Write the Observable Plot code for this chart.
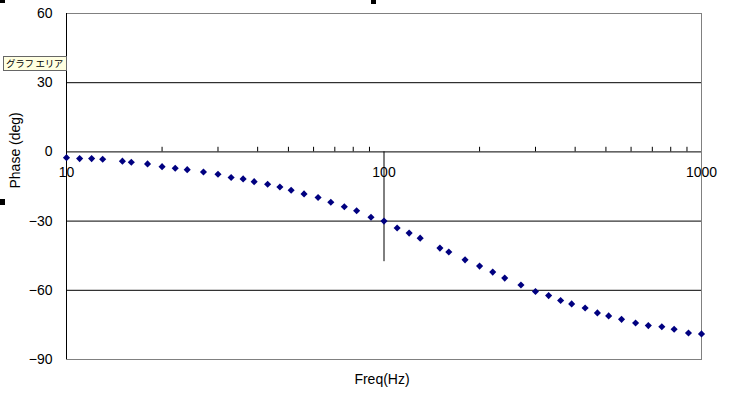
<!DOCTYPE html>
<html><head><meta charset="utf-8">
<script src="https://cdn.jsdelivr.net/npm/d3@7"></script>
<script src="https://cdn.jsdelivr.net/npm/@observablehq/plot@0.6"></script>
<style>
body{margin:0;background:#fff;}
#wrap{position:relative;width:735px;height:395px;overflow:hidden;}
#wrap svg{position:absolute;left:0;top:0;}
.h{position:absolute;background:#000;}
#tip{position:absolute;left:3px;top:56px;width:60px;height:13px;background:#ffffe1;border:1px solid #666;font-family:"Noto Sans CJK JP";font-size:9.5px;letter-spacing:-0.3px;line-height:13px;white-space:nowrap;padding-left:2px;color:#000;overflow:hidden;}
</style></head>
<body><div id="wrap"></div>
<script>
const freqs = [10,11,12,13,15,16,18,20,22,24,27,30,33,36,39,43,47,51,56,62,68,75,82,91,
  100,110,120,130,150,160,180,200,220,240,270,300,330,360,390,430,470,510,560,620,680,750,820,910,1000];
const phase = [-2.5,-2.9,-2.9,-3.2,-4.0,-4.5,-5.2,-6.4,-7.1,-7.7,-8.7,-9.7,-11.1,-11.7,-12.9,-14.0,-15.2,-16.6,-18.2,-19.8,-21.8,-23.8,-25.5,-28.3,
  -30.0,-33.0,-35.2,-37.4,-41.7,-43.4,-46.8,-49.5,-52.1,-54.7,-57.7,-60.5,-62.3,-64.4,-65.9,-67.7,-69.8,-71.1,-72.6,-74.2,-75.3,-75.8,-76.9,-78.5,-78.9];
const xTicks = [10, 100, 1000];
const xMinor = [20,30,40,50,60,70,80,90,200,300,400,500,600,700,800,900];
const yTicks = [-90, -60, -30, 0, 30, 60];
const yGrid = [30, -30, -60];
const xTitle = "Freq(Hz)";
const yTitle = "Phase (deg)";

const data = freqs.map((f, i) => ({f, p: phase[i]}));

const chart = Plot.plot({
  width: 735,
  height: 395,
  marginLeft: 66,
  marginRight: 34,
  marginTop: 13,
  marginBottom: 36,
  style: {fontFamily: "Liberation Sans", fontSize: "14px", background: "white", color: "black"},
  x: {type: "log", domain: [10, 1000], axis: null},
  y: {domain: [-90, 60], ticks: yTicks, tickSize: 0, tickPadding: 14, label: null},
  marks: [
    Plot.frame({stroke: "#808080"}),
    Plot.ruleY(yGrid, {stroke: "black"}),
    Plot.ruleY([0], {stroke: "black"}),
    Plot.ruleX([10], {stroke: "black"}),
    Plot.ruleX(xMinor, {x: d => d, y1: 0, y2: 2, stroke: "black"}),
    Plot.ruleX([100], {x: d => d, y1: 0, y2: -47.6, stroke: "black"}),
    Plot.text(xTicks, {x: d => d, y: 0, dy: 21, text: d => String(d), fontSize: 14}),
    Plot.dot(data, {x: "f", y: "p", symbol: "diamond2", r: 3.2, fill: "#000080", stroke: null}),
    Plot.text([xTitle], {frameAnchor: "bottom", dx: -2, dy: 24, text: d => d, fontSize: 14}),
    Plot.text([yTitle], {frameAnchor: "left", dx: -51, dy: 2, rotate: -90, text: d => d, fontSize: 14})
  ]
});
const wrap = document.getElementById("wrap");
wrap.appendChild(chart);
const handles = [[0,0,5,3],[371,0,5,4],[0,199,5,6]];
for (const [l,t,w,h] of handles) {
  const d = document.createElement("div");
  d.className = "h";
  d.style.left = l + "px"; d.style.top = t + "px"; d.style.width = w + "px"; d.style.height = h + "px";
  wrap.appendChild(d);
}
const tip = document.createElement("div");
tip.id = "tip";
tip.textContent = "グラフ エリア";
wrap.appendChild(tip);
</script>
</body></html>
